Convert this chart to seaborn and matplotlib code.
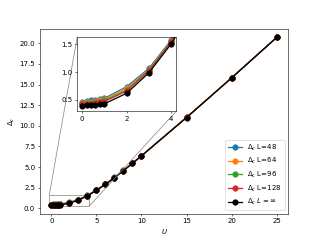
import numpy as np
import seaborn as sns
import matplotlib
matplotlib.use("Agg")
import matplotlib.pyplot as plt
from mpl_toolkits.axes_grid1.inset_locator import mark_inset

U = [0, 0.2, 0.4, 0.6, 0.8, 1.0, 2, 3, 4, 5, 6, 7, 8, 9, 10, 15, 20, 25]

gap_48 = [0.47, 0.48, 0.49, 0.50, 0.52, 0.53, 0.74, 1.07, 1.58, 2.24, 2.96, 3.75, 4.61, 5.49, 6.39, 11.03, 15.83, 20.73]
gap_64 = [0.45, 0.46, 0.47, 0.48, 0.50, 0.51, 0.71, 1.05, 1.56, 2.22, 2.94, 3.73, 4.60, 5.48, 6.38, 11.02, 15.82, 20.72]
gap_96 = [0.43, 0.44, 0.45, 0.46, 0.47, 0.49, 0.68, 1.04, 1.55, 2.21, 2.93, 3.72, 4.59, 5.47, 6.37, 11.01, 15.81, 20.71]
gap_128 = [0.42, 0.42, 0.43, 0.44, 0.46, 0.47, 0.66, 1.02, 1.54, 2.20, 2.92, 3.71, 4.58, 5.46, 6.36, 11.01, 15.81, 20.71]
gap_inf = [0.39, 0.40, 0.40, 0.41, 0.42, 0.43, 0.62, 0.99, 1.51, 2.17, 2.90, 3.70, 4.57, 5.45, 6.35, 11.00, 15.80, 20.70]

labels = [r'$\Delta_c$ L=48', r'$\Delta_c$ L=64', r'$\Delta_c$ L=96',
          r'$\Delta_c$ L=128', r'$\Delta_c$ $L=\infty$']
series = [gap_48, gap_64, gap_96, gap_128, gap_inf]
colors = ['#1f77b4', '#ff7f0e', '#2ca02c', '#d62728', 'black']

fig, ax = plt.subplots(figsize=(6.4, 4.8), dpi=50)
axins = ax.inset_axes([0.15, 0.555, 0.4, 0.4])

for vals, lab, col in zip(series, labels, colors):
    for a in (ax, axins):
        sns.lineplot(x=U, y=vals, ax=a, color=col, marker='o', label=lab if a is ax else None,
                     markeredgecolor=col, markersize=8, linewidth=1.8, legend=False)

ax.legend(loc='lower right')
ax.set_xlabel('$U$')
ax.set_ylabel(r'$\Delta_c$')

axins.set_xlim(-0.22, 4.23)
axins.set_ylim(0.3, 1.63)
axins.set_xticks([0, 2, 4])
axins.set_yticks([0.5, 1.0, 1.5])
mark_inset(ax, axins, loc1=2, loc2=4, fc='none', ec='0.5')

fig.savefig('out.png', dpi=50)
